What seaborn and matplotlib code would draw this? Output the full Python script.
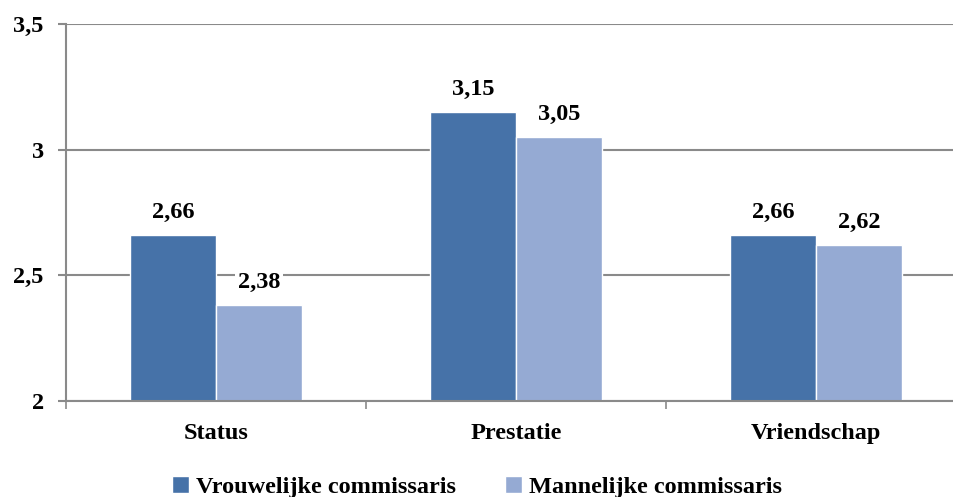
import numpy as np
import pandas as pd
import matplotlib
matplotlib.use("Agg")
import matplotlib.pyplot as plt
from matplotlib.ticker import FuncFormatter, FixedLocator
import seaborn as sns

# Data
categories = ["Status", "Prestatie", "Vriendschap"]
series = ["Vrouwelijke commissaris", "Mannelijke commissaris"]
vrouwen = [2.66, 3.15, 2.66]
mannen = [2.38, 3.05, 2.62]
colors = ["#4672A8", "#95AAD3"]

df = pd.DataFrame({
    "categorie": categories * 2,
    "groep": [series[0]] * 3 + [series[1]] * 3,
    "score": vrouwen + mannen,
})

sns.set_style("white")
plt.rcParams["font.family"] = ["Liberation Serif", "DejaVu Serif"]
plt.rcParams["font.weight"] = "bold"
plt.rcParams["text.color"] = "black"
plt.rcParams["xtick.labelcolor"] = "black"
plt.rcParams["ytick.labelcolor"] = "black"

fsize = 17.5

fig = plt.figure(figsize=(9.54, 4.97), dpi=100)
ax = fig.add_axes([66 / 954, 1 - 401 / 497, 1 - 66 / 954, (401 - 24) / 497])

sns.barplot(data=df, x="categorie", y="score", hue="groep", palette=colors,
            width=0.573, saturation=1, ax=ax)

ax.set_ylim(2, 3.5)
ax.set_xlim(-0.5, 2.46)
ax.set_yticks([2, 2.5, 3, 3.5])
ax.yaxis.set_major_formatter(FuncFormatter(lambda v, p: f"{v:g}".replace(".", ",")))
ax.yaxis.grid(True, color="#8a8a8a", linewidth=1.5)
ax.set_axisbelow(True)

# category boundary ticks on x axis
ax.xaxis.set_minor_locator(FixedLocator([-0.5, 0.5, 1.5, 2.5]))
ax.tick_params(axis="x", which="major", length=0, labelsize=fsize, pad=16)
ax.tick_params(axis="x", which="minor", length=6, width=1.2, color="#8a8a8a", direction="out",
               bottom=True)
ax.tick_params(axis="y", length=6, width=1.5, color="#8a8a8a", labelsize=fsize, pad=10,
               left=True)
for lab in ax.get_xticklabels() + ax.get_yticklabels():
    lab.set_fontweight("bold")
    lab.set_color("black")

for s in ["top", "right"]:
    ax.spines[s].set_visible(False)
for s in ["left", "bottom"]:
    ax.spines[s].set_color("#8a8a8a")
    ax.spines[s].set_linewidth(1.5)

ax.set_xlabel("")
ax.set_ylabel("")

for cont in ax.containers:
    ax.bar_label(cont, labels=[f"{v:.2f}".replace(".", ",") for v in cont.datavalues],
                 padding=9, fontsize=fsize, fontweight="bold", color="black",
                 bbox=dict(facecolor="white", edgecolor="none", pad=2))

handles, labels = ax.get_legend_handles_labels()
ax.legend_.remove()
fig.legend(handles, labels, loc="center", bbox_to_anchor=(0.5, 1 - 487 / 497),
           ncol=2, frameon=False, handlelength=0.7, handleheight=0.7,
           handletextpad=0.3, columnspacing=2.0, prop={"weight": "bold", "size": fsize})

fig.savefig("out.png", dpi=100)
